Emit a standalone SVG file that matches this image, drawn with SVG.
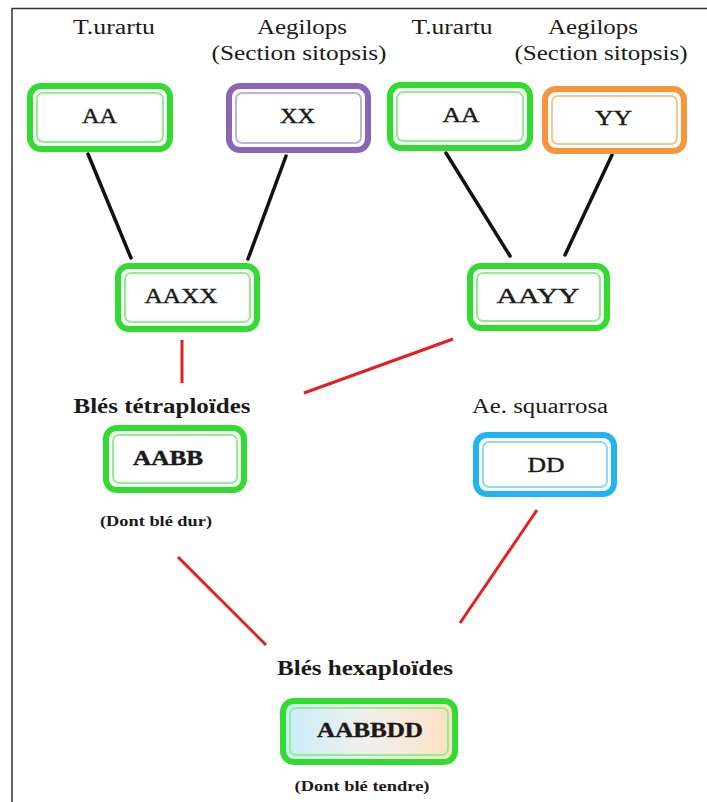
<svg xmlns="http://www.w3.org/2000/svg" width="707" height="802" viewBox="0 0 707 802">
<defs>
<style>
text{font-family:"Liberation Serif","Times New Roman",serif;fill:#1a1a1a;text-anchor:middle}
.lbl{font-size:20px}
.b{font-weight:bold}
.sm{font-size:14px;font-weight:bold}
.bx{font-size:20px;stroke:#1a1a1a;stroke-width:0.4}
.outer{fill:#fff;stroke-width:6}
.inner{fill:none;stroke-width:2}
.g .outer{stroke:#2fdc2f}.g .inner{stroke:#8ef08e}
.p .outer{stroke:#8a66b4}.p .inner{stroke:#c4aedc}
.o .outer{stroke:#f7953a}.o .inner{stroke:#fbc590}
.c .outer{stroke:#22b4f2}.c .inner{stroke:#8ed8f8}
.blk{stroke:#111;stroke-width:3.5;stroke-linecap:round}
.red{stroke:#e81e1e;stroke-width:3}
</style>
<linearGradient id="hex" x1="0" y1="0" x2="1" y2="0">
<stop offset="0" stop-color="#c8ecfc"/>
<stop offset="0.5" stop-color="#f2f0ec"/>
<stop offset="1" stop-color="#fde0c0"/>
</linearGradient>
</defs>
<rect width="707" height="802" fill="#fff"/>
<path d="M12 802 V8.5 H707" fill="none" stroke="#333" stroke-width="1.5"/>

<text class="lbl" x="114" y="34" textLength="82" lengthAdjust="spacingAndGlyphs">T.urartu</text>
<text class="lbl" x="302" y="34" textLength="90" lengthAdjust="spacingAndGlyphs">Aegilops</text>
<text class="lbl" x="299" y="60" textLength="175" lengthAdjust="spacingAndGlyphs">(Section sitopsis)</text>
<text class="lbl" x="452" y="34" textLength="81" lengthAdjust="spacingAndGlyphs">T.urartu</text>
<text class="lbl" x="593" y="34" textLength="90" lengthAdjust="spacingAndGlyphs">Aegilops</text>
<text class="lbl" x="601" y="60" textLength="173" lengthAdjust="spacingAndGlyphs">(Section sitopsis)</text>

<g id="connectors">
<line class="blk" x1="88" y1="154" x2="131" y2="258"/>
<line class="blk" x1="286" y1="156" x2="248" y2="259"/>
<line class="blk" x1="446" y1="153" x2="510" y2="256"/>
<line class="blk" x1="612" y1="155" x2="565" y2="255"/>
<line class="red" x1="182" y1="340" x2="182" y2="383"/>
<line class="red" x1="453" y1="339" x2="304" y2="393"/>
<line class="red" x1="178" y1="557" x2="266" y2="645"/>
<line class="red" x1="537" y1="510" x2="460" y2="623"/>
</g>

<g id="aa1" class="g">
<rect class="outer" x="30" y="86" width="140" height="63" rx="11"/>
<rect class="inner" x="37" y="93" width="126" height="49" rx="6"/>
<text class="bx" x="99.5" y="123" textLength="35" lengthAdjust="spacingAndGlyphs">AA</text>
</g>
<g id="xx" class="p">
<rect class="outer" x="229" y="86" width="139" height="64" rx="11"/>
<rect class="inner" x="236" y="93" width="125" height="50" rx="6"/>
<text class="bx" x="297.5" y="123" textLength="35" lengthAdjust="spacingAndGlyphs">XX</text>
</g>
<g id="aa2" class="g">
<rect class="outer" x="390" y="85" width="140" height="63" rx="11"/>
<rect class="inner" x="397" y="92" width="126" height="49" rx="6"/>
<text class="bx" x="461" y="122" textLength="37" lengthAdjust="spacingAndGlyphs">AA</text>
</g>
<g id="yy" class="o">
<rect class="outer" x="545" y="89" width="139" height="62" rx="11"/>
<rect class="inner" x="552" y="96" width="125" height="48" rx="6"/>
<text class="bx" x="613.5" y="125" textLength="37" lengthAdjust="spacingAndGlyphs">YY</text>
</g>
<g id="aaxx" class="g">
<rect class="outer" x="118" y="266" width="139" height="63" rx="11"/>
<rect class="inner" x="125" y="273" width="125" height="49" rx="6"/>
<text class="bx" x="181" y="303" textLength="73" lengthAdjust="spacingAndGlyphs">AAXX</text>
</g>
<g id="aayy" class="g">
<rect class="outer" x="470" y="266" width="137" height="62" rx="11"/>
<rect class="inner" x="477" y="273" width="123" height="48" rx="6"/>
<text class="bx" x="538" y="303" textLength="83" lengthAdjust="spacingAndGlyphs">AAYY</text>
</g>

<text class="lbl b" x="162" y="413" textLength="177" lengthAdjust="spacingAndGlyphs">Blés tétraploïdes</text>
<g id="aabb" class="g">
<rect class="outer" x="106" y="428" width="138" height="62" rx="11"/>
<rect class="inner" x="113" y="435" width="124" height="48" rx="6"/>
<text class="bx b" x="168" y="465" textLength="70" lengthAdjust="spacingAndGlyphs">AABB</text>
</g>
<text class="sm" x="156" y="526" textLength="112" lengthAdjust="spacingAndGlyphs">(Dont blé dur)</text>

<text class="lbl" x="540" y="413" textLength="136" lengthAdjust="spacingAndGlyphs">Ae. squarrosa</text>
<g id="dd" class="c">
<rect class="outer" x="476" y="435" width="138" height="59" rx="11"/>
<rect class="inner" x="483" y="442" width="124" height="45" rx="6"/>
<text class="bx" x="546" y="472" textLength="37" lengthAdjust="spacingAndGlyphs">DD</text>
</g>

<text class="lbl b" x="365" y="675" textLength="176" lengthAdjust="spacingAndGlyphs">Blés hexaploïdes</text>
<g id="aabbdd" class="g">
<rect class="outer" x="283" y="701" width="172" height="61" rx="11" style="fill:url(#hex)"/>
<rect class="inner" x="290" y="708" width="158" height="47" rx="6"/>
<text class="bx b" x="370" y="737" style="font-size:22px" textLength="106" lengthAdjust="spacingAndGlyphs">AABBDD</text>
</g>
<text class="sm" x="362" y="791" textLength="135" lengthAdjust="spacingAndGlyphs">(Dont blé tendre)</text>
</svg>
